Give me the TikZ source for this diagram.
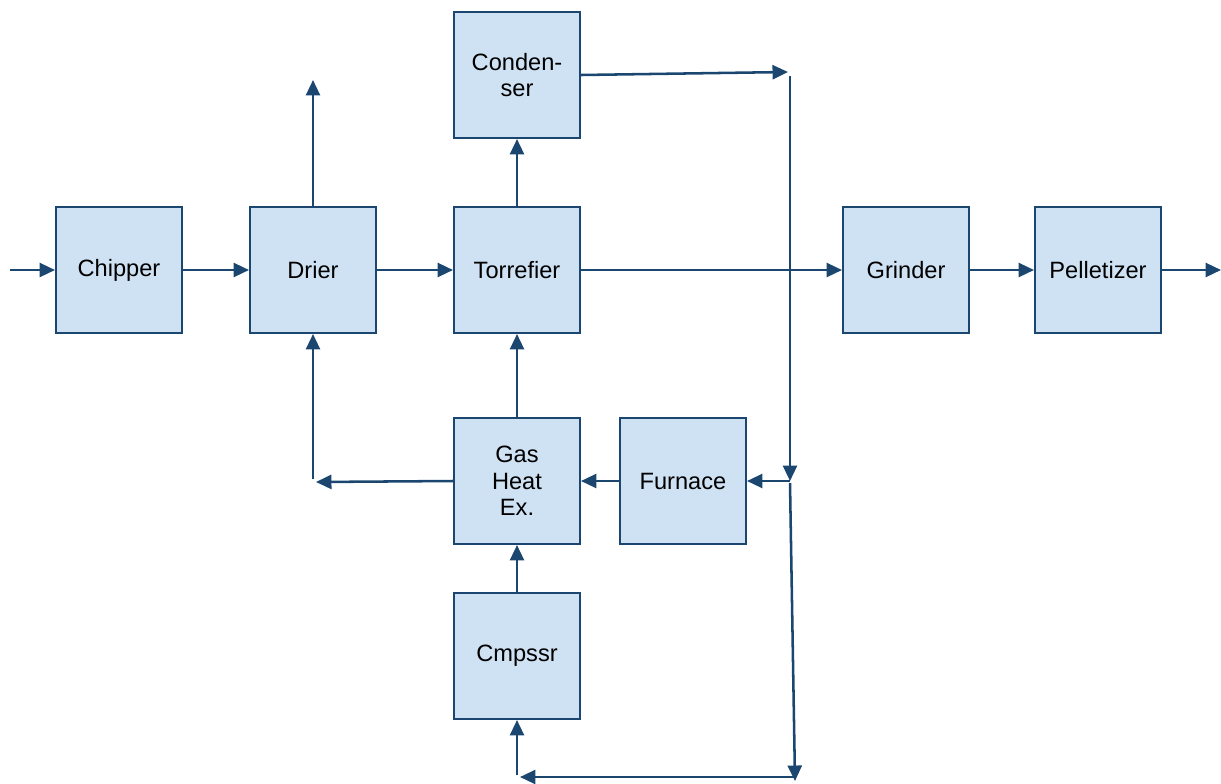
\documentclass[tikz,border=0pt]{standalone}
\usepackage{fontspec}
\setmainfont{Liberation Sans}
\usetikzlibrary{arrows.meta}
\definecolor{boxfill}{HTML}{CFE2F3}
\definecolor{lineblue}{HTML}{1A4670}
\tikzset{unit/.style={draw=lineblue, fill=boxfill, line width=1.4pt,
  minimum width=3.15cm, minimum height=3.15cm, inner sep=0pt,
  align=center, text=black, font=\fontsize{16.8}{19}\selectfont}}
\begin{document}
\begin{tikzpicture}[x=0.025cm, y=-0.025cm,
  >={Triangle[length=11pt, width=10pt]}, line width=1.8pt, lineblue]
  \useasboundingbox (0,0) rectangle (1221,783);
  \node[unit] (chip) at (119,270)  {Chipper};
  \node[unit] (drie) at (313,270)  {Drier};
  \node[unit] (torr) at (517,270)  {Torrefier};
  \node[unit] (grin) at (906,270)  {Grinder};
  \node[unit] (pell) at (1098,270) {Pelletizer};
  \node[unit] (cond) at (517,75)   {Conden-\\ser};
  \node[unit] (ghx)  at (517,481)  {Gas\\Heat\\Ex.};
  \node[unit] (furn) at (683,481)  {Furnace};
  \node[unit] (cmp)  at (517,656)  {Cmpssr};
  % Free ends
  \coordinate (in)   at (10,270);
  \coordinate (out)  at (1221,270);
  \coordinate (vent) at (313,80);
  \coordinate (c1)   at (788,72);
  \coordinate (c2)   at (790,76);
  \coordinate (c3)   at (790,481);
  \coordinate (c4)   at (790,483);
  \coordinate (c5)   at (795,781);
  \coordinate (c6)   at (794,777);
  \coordinate (c7)   at (520,777);
  \coordinate (c8)   at (517,775);
  \coordinate (g1)   at (316,482);
  \coordinate (g2)   at (313,479);
  % Main line
  \draw[->] (in) -- (chip);
  \draw[->] (chip) -- (drie);
  \draw[->] (drie) -- (torr);
  \draw[->] (torr) -- (grin);
  \draw[->] (grin) -- (pell);
  \draw[->] (pell) -- (out);
  \draw[->] (drie) -- (vent);
  \draw[->] (torr) -- (cond);
  % Gas loop
  \draw[->] (cond.east) -- (c1);
  \draw[->] (c2) -- (c3);
  \draw[->] (c4 |- furn.east) -- (furn.east);
  \draw[->] (c4) -- (c5);
  \draw[->] (c6) -- (c7);
  \draw[->] (c8) -- (cmp);
  \draw[->] (cmp) -- (ghx);
  \draw[->] (furn) -- (ghx);
  \draw[->] (ghx) -- (torr);
  \draw[->] (ghx.west) -- (g1);
  \draw[->] (g2) -- (drie);
\end{tikzpicture}
\end{document}
